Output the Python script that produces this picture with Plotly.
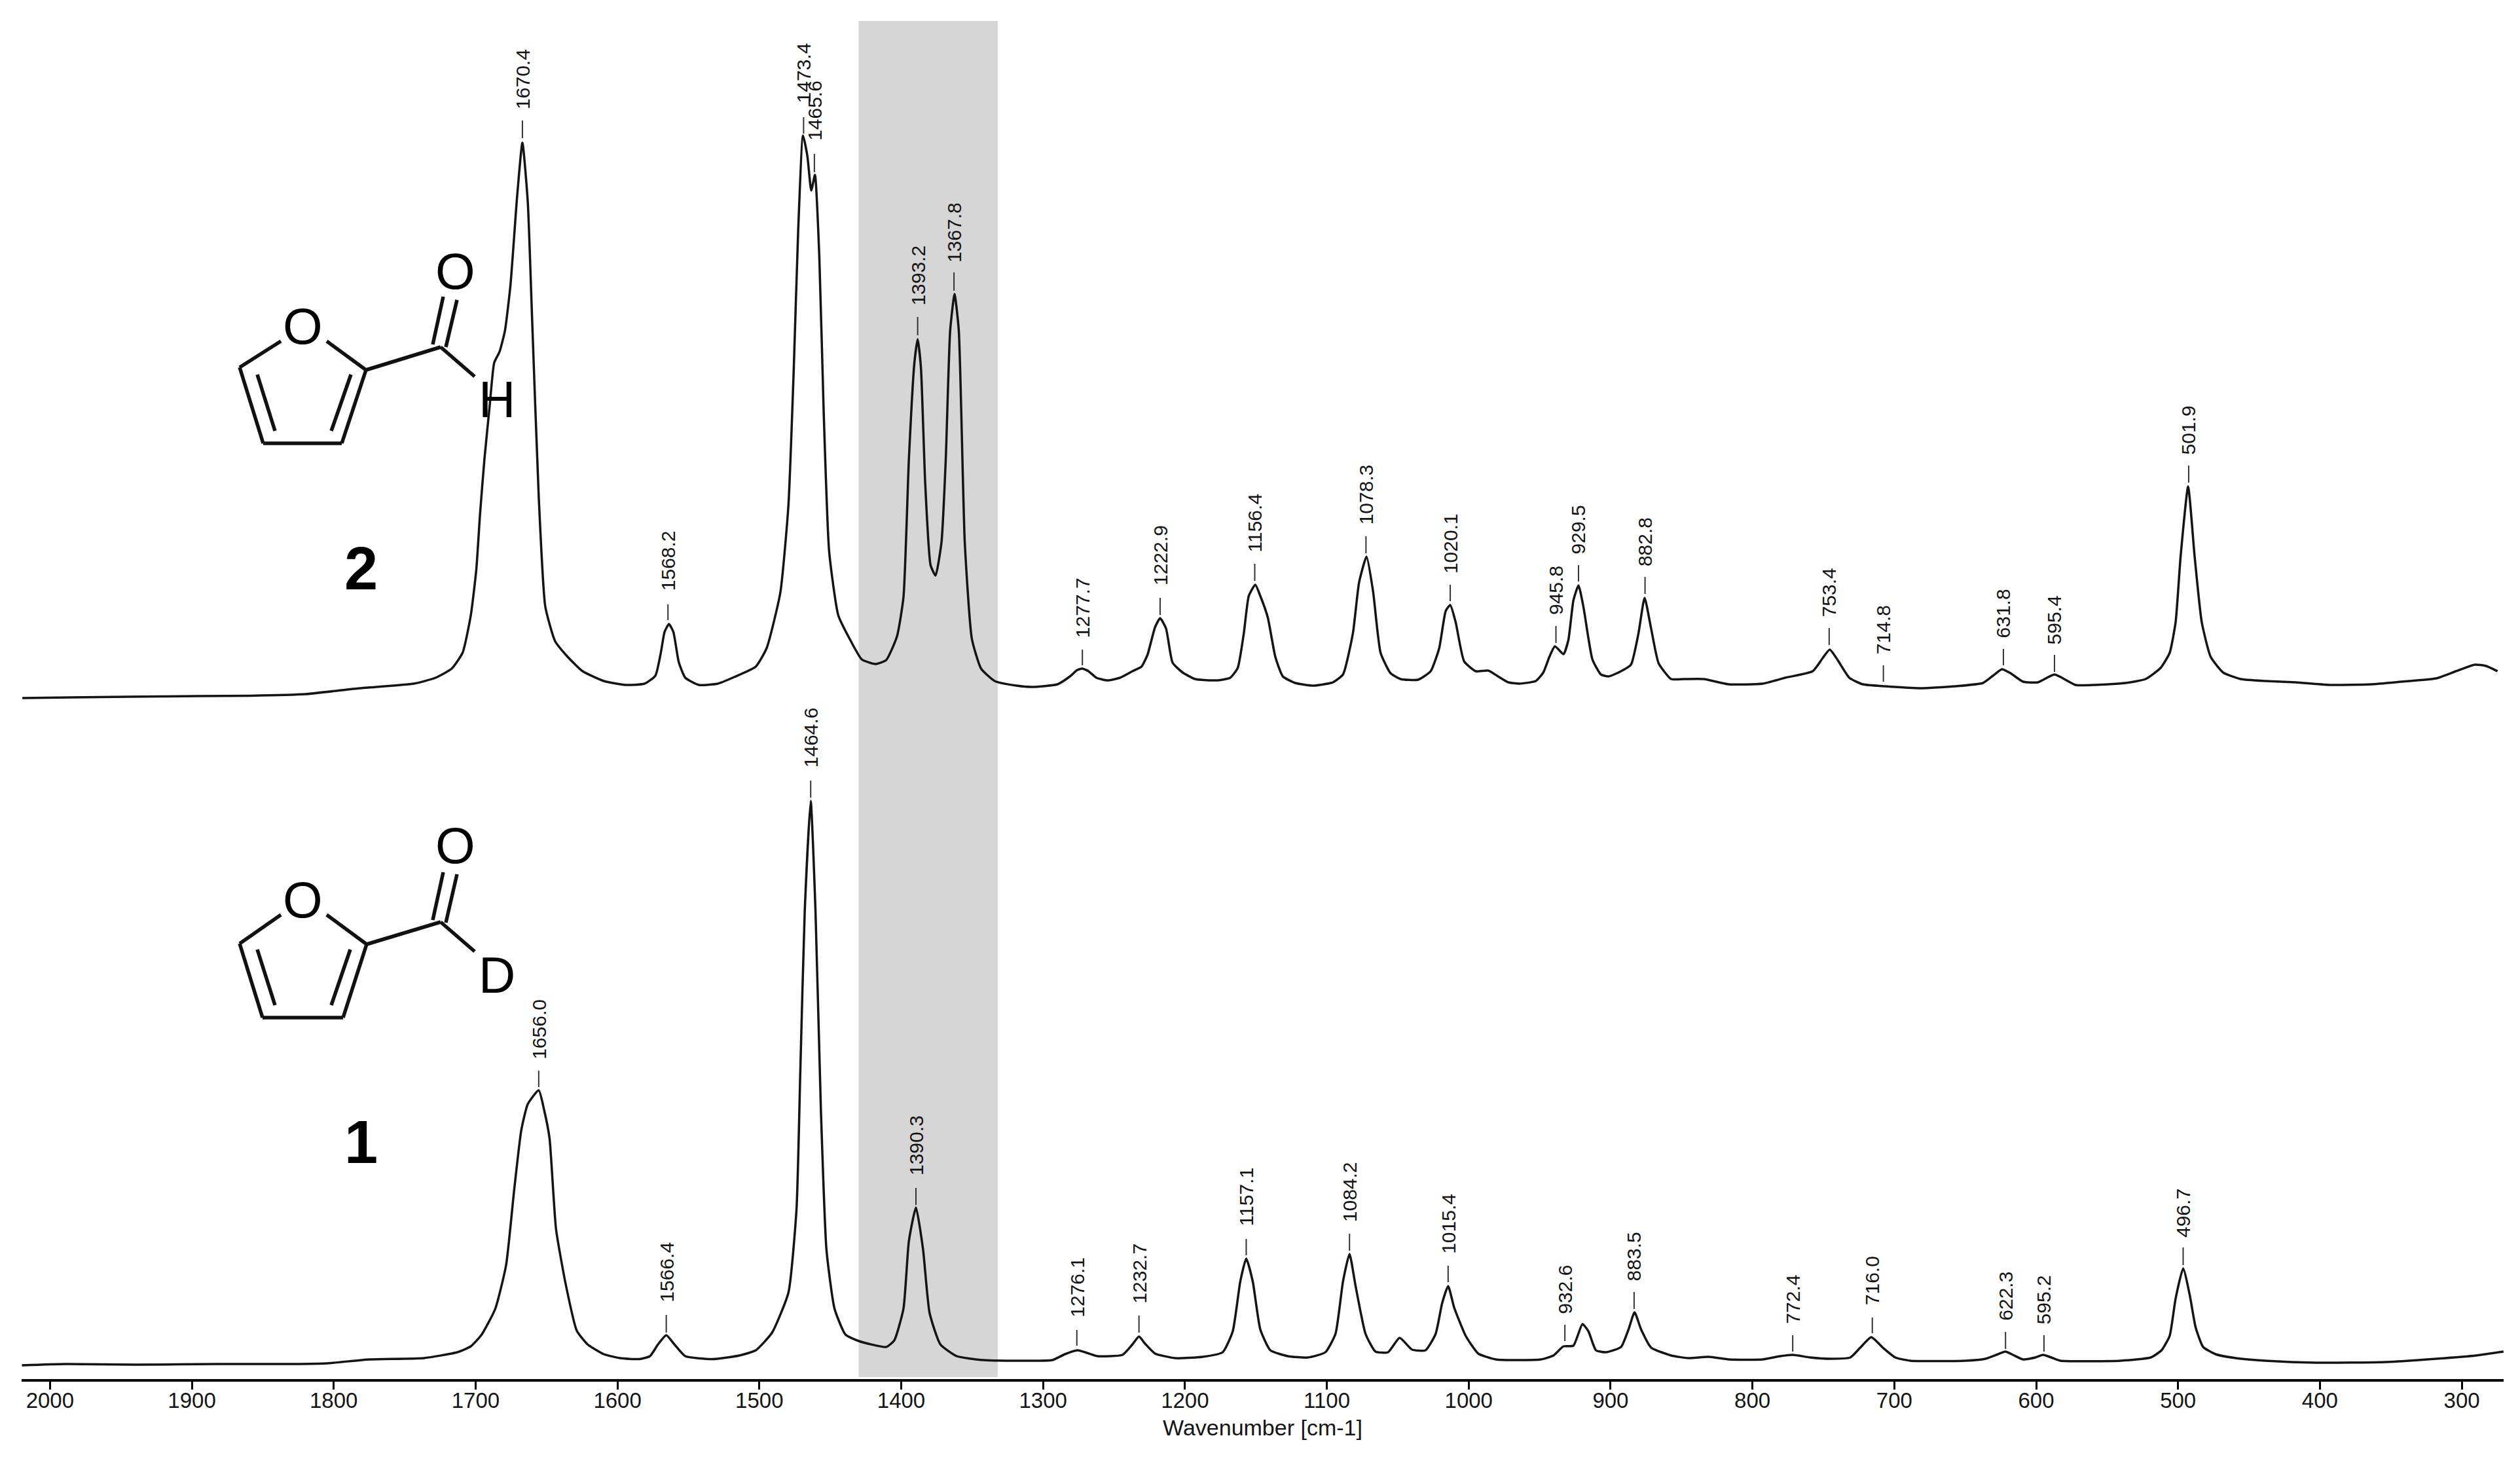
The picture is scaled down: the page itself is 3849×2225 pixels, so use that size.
import plotly.graph_objects as go

# ---- Spectrum 2 (furfural, upper trace): wavenumber / intensity on a shared arbitrary scale
w2 = [2019.5,1985.0,1945.0,1896.6,1858.3,1820.1,1781.8,1743.5,1728.2,1716.8,1709.1,1703.4,1699.5,1696.9,1693.8,1690.0,1686.9,1683.1,1679.3,1675.4,1670.8,1667.0,1663.2,1660.1,1655.5,1650.9,1644.0,1636.4,1624.9,1609.6,1594.3,1580.9,1573.3,1569.4,1566.8,1563.7,1560.6,1556.8,1552.2,1542.6,1529.3,1517.8,1502.5,1494.8,1485.2,1479.5,1475.7,1472.6,1469.2,1466.1,1463.4,1460.8,1457.7,1454.6,1450.8,1444.3,1435.5,1427.8,1418.3,1410.6,1403.0,1398.4,1394.6,1390.7,1388.4,1386.1,1383.1,1379.3,1375.8,1371.6,1368.6,1365.5,1362.4,1359.4,1355.2,1350.2,1343.7,1334.1,1318.8,
      1307.6,1289.9,1281.1,1275.8,1272.3,1268.0,1262.4,1254.6,1245.8,1237.0,1230.6,1226.4,1221.1,1217.5,1213.3,1208.7,1201.6,1192.8,1176.9,1168.1,1162.8,1158.5,1155.0,1150.4,1146.9,1141.6,1136.3,1131.0,1122.2,1109.8,1095.7,1088.6,1081.6,1077.3,1072.0,1067.4,1062.1,1055.1,1048.0,1035.6,1026.8,1020.8,1016.2,1013.0,1009.2,1003.2,995.0,986.2,979.2,972.1,964.3,952.7,947.4,943.1,939.2,933.2,929.7,926.2,922.6,919.1,912.8,906.8,901.4,892.6,885.6,880.3,876.0,871.4,866.1,857.3,848.5,834.3,816.7,
      792.8,776.9,757.5,750.5,745.5,739.9,731.7,722.2,706.3,681.6,657.0,637.5,630.5,624.1,618.1,609.3,598.7,587.1,572.3,558.1,537.0,522.9,512.3,505.9,501.7,498.2,492.9,488.3,483.3,477.0,468.2,455.8,438.2,417.0,392.3,364.1,342.9,318.2,304.1,290.7,282.9,274.8]
i2 = [1040,1041,1042,1043,1043.6,1046,1055,1062,1071,1085,1109.5,1166,1236,1320,1404,1488,1552,1569,1601,1671,1804,1888,1797,1615,1348,1180,1127,1106,1081.5,1066,1060,1062,1074,1109.5,1141,1153,1141,1095,1071,1060,1062,1072,1088,1116.5,1201,1334,1545,1755,1899,1867,1815,1839,1713,1474,1264,1166,1127,1099,1092,1098,1134,1194,1404,1552,1588,1545,1369,1243,1227,1278,1404,1601,1657,1601,1278,1130.5,1085,1066,1059,
      1057,1061,1073,1083,1085,1081,1071,1067,1071,1081,1088,1106,1148,1162,1146,1094,1079,1069,1067,1071,1086,1139,1196,1213,1196,1163,1103,1073,1063,1059,1064,1076,1139,1216,1256,1203,1109,1078,1069,1068,1081,1116,1173,1182,1156,1096,1081,1082,1073,1064,1062,1066,1079,1103,1119,1107,1129,1189,1212,1179,1099,1076,1073,1081,1091,1139,1193,1146,1093,1069,1069,1069,1061,
      1062,1071,1081,1101,1114,1098,1071,1061,1058,1055,1058,1063,1074,1084,1078,1065,1064,1076,1060,1060,1063,1069,1086,1109,1156,1256,1363,1256,1156,1103,1079,1069,1066,1064,1060,1061,1065,1070,1081,1091,1089,1081]

# ---- Spectrum 1 (furfural-d, lower trace)
w1 = [2019.8,1989.2,1939.4,1882.0,1828.4,1805.5,1774.9,1736.6,1712.9,1703.4,1695.7,1686.1,1678.5,1672.8,1667.8,1663.2,1655.5,1651.7,1647.9,1643.3,1636.4,1628.7,1621.1,1609.6,1598.1,1584.7,1577.1,1571.4,1565.6,1559.9,1552.2,1533.1,1514.0,1502.5,1491.0,1479.5,1473.8,1471.1,1468.0,1463.8,1460.4,1456.6,1452.7,1447.0,1439.3,1429.8,1410.6,1404.9,1398.4,1394.6,1389.6,1384.6,1380.0,1372.4,1360.9,1341.8,
      1316.4,1293.5,1284.6,1275.8,1270.5,1261.7,1244.0,1237.0,1232.4,1228.1,1221.1,1206.9,1187.5,1173.4,1166.3,1161.0,1156.8,1152.2,1146.9,1139.8,1127.5,1113.3,1101.0,1093.9,1088.6,1084.0,1079.8,1072.7,1065.7,1056.8,1048.7,1039.9,1030.4,1023.3,1018.7,1014.5,1010.2,1002.1,993.3,980.9,949.1,940.3,933.2,926.2,919.8,915.6,910.3,903.2,892.6,887.3,883.1,878.5,871.4,857.3,845.0,830.8,816.7,
      792.8,780.4,771.6,759.3,745.2,731.0,724.0,716.2,708.1,699.3,688.7,649.9,635.8,626.9,621.6,616.4,609.3,600.5,595.2,588.1,582.8,540.5,519.3,511.6,505.9,501.7,496.4,491.8,487.6,482.3,473.5,459.3,438.2,402.9,353.5,318.2,290.0,270.6]
i1 = [21,23,22,23,23,24,30,32,41,50,68,107.5,174,289,380,420,441,411,368,229,144,74,53,38,32,30.5,35,53,67,53,35,30.5,36,44,71,132,259,471,714,883,714,411,198,107.5,68,58,49,59,107.5,210.5,262,198,101,53,35,29,
      28,29,38,44,41,35,37,53,65,54,39,32,34,41,73,149,184,149,76,44,35,33,41,69,149,191,143,69,42,41,63,45,44,69,116,142,109,66,39,30,30,36,50,51,84,73,44,41,49,76,102,76,48,36,32,34,30,
      30,35,37,33,31,33,48,64,48,33,28,28,31,38,42,37,30,33,37,32,28,28,33,44,66,123,169,129,79,49,38,32,28,25,26,31,36,42]

# ---- Peak picks: printed label, position on the axis, tick from/to, label base
peak_text = ["1670.4","1473.4","1465.6","1393.2","1367.8","1568.2","1277.7","1222.9","1156.4","1078.3","1020.1","945.8","929.5","882.8","753.4","714.8","631.8","595.4","501.9",
             "1464.6","1656.0","1566.4","1390.3","1276.1","1232.7","1157.1","1084.2","1015.4","932.6","883.5","772.4","716.0","622.3","595.2","496.7"]
peak_w = [1667.0,1468.8,1461.2,1388.4,1362.8,1564.4,1272.3,1217.5,1150.8,1072.4,1013.0,938.5,922.6,875.7,745.9,707.7,623.1,587.1,492.5,
          1463.8,1655.5,1565.6,1389.6,1276.2,1232.4,1156.8,1084.0,1014.5,932.2,883.4,771.6,715.5,621.6,594.5,496.4]
tick_lo = [1895,1902,1843,1594,1662,1159,1090,1167,1219,1261,1188,1124,1218,1199,1121,1065,1090,1080,1369,
           888,446,71,266,51,71,189,196,148,58,107,42,70,46,42,174]
tick_hi = [1922,1927,1871,1622,1690,1183,1114,1193,1245,1287,1213,1150,1243,1225,1147,1090,1115,1106,1395,
           914,471,98,292,75,97,214,222,173,83,133,67,94,72,67,201]
text_base = [1943,1953,1895,1643,1709,1208,1136,1216,1267,1309,1234,1171,1264,1245,1168,1111,1136,1126,1416,
             938,492,121,315,98,119,238,244,195,103,154,88,117,93,88,220]

band_w = [1430, 1332]
x_range = [2020, 270.5]
y_range = [0, 2076]
tick_vals = list(range(2000, 299, -100))

# ---- Canvas
W, H = 3849, 2225
L, R, T, B = 33, 3824, 30, 2106
INK = "#141414"
def px(X): return (X - L) / (R - L)
def py(Y): return (B - Y) / (B - T)

fig = go.Figure()
fig.add_trace(go.Scatter(x=w2, y=i2, mode="lines", name="2",
                         line=dict(color=INK, width=3.5, shape="spline", smoothing=0.5)))
fig.add_trace(go.Scatter(x=w1, y=i1, mode="lines", name="1",
                         line=dict(color=INK, width=3.5, shape="spline", smoothing=0.5)))

shapes = [dict(type="rect", xref="x", yref="y", x0=band_w[0], x1=band_w[1], y0=3, y1=2074,
               fillcolor="#d6d6d6", line=dict(width=0), layer="below")]
for w, lo, hi in zip(peak_w, tick_lo, tick_hi):
    shapes.append(dict(type="line", xref="x", yref="y", x0=w, x1=w, y0=lo, y1=hi,
                       line=dict(color="#333333", width=2)))

annotations = []
for t, w, b in zip(peak_text, peak_w, text_base):
    annotations.append(dict(x=w, y=b, xref="x", yref="y", text=t, textangle=-90, showarrow=False,
                            xanchor="center", yanchor="bottom", yshift=-6,
                            font=dict(family="Liberation Sans", size=30, color=INK)))

# ---- Structural formulae (illustration, canvas pixels)
def bonds(seg, width=5.5):
    for (a, b, c, d) in seg:
        shapes.append(dict(type="line", xref="paper", yref="paper",
                           x0=px(a), y0=py(b), x1=px(c), y1=py(d),
                           line=dict(color="#111111", width=width)))
def atom(X, Y, s, size=78, bold=False):
    annotations.append(dict(x=px(X), y=py(Y), xref="paper", yref="paper", text=f"<b>{s}</b>" if bold else s,
                            showarrow=False, xanchor="center", yanchor="middle",
                            font=dict(family="Liberation Sans", size=size, color="#000000")))

bonds([(429,521,366,561),(366,561,402,677),(402,677,522,677),(522,677,559,565),(559,565,499,521),
       (393,572,420,658),(536,572,506,658),(559,565,673,530),(661,526,677,453),(681,530,698,458),(673,530,725,575)])
atom(462.5,498,"O"); atom(695.5,414,"O"); atom(758.5,610,"H"); atom(551,868,"2",size=92,bold=True)

bonds([(429,1397,366,1441),(366,1441,401,1554),(401,1554,524,1554),(524,1554,560,1442),(560,1442,499,1397),
       (393,1450,420,1535),(535,1450,506,1535),(560,1442,673,1408),(661,1405,677,1332),(681,1409,698,1335),(673,1408,725,1453)])
atom(462.5,1374,"O"); atom(695.5,1291,"O"); atom(758.5,1489,"D"); atom(551,1744,"1",size=92,bold=True)

fig.update_layout(
    width=W, height=H, showlegend=False,
    paper_bgcolor="white", plot_bgcolor="white",
    margin=dict(l=L, r=W - R, t=T, b=H - B, pad=0),
    shapes=shapes, annotations=annotations,
    xaxis=dict(range=x_range, tickmode="array", tickvals=tick_vals, ticktext=[str(v) for v in tick_vals],
               showgrid=False, zeroline=False, showline=True, linecolor="#000000", linewidth=4,
               ticks="outside", ticklen=12, tickwidth=2.5, tickcolor="#000000", ticklabelstandoff=-12,
               tickfont=dict(family="Liberation Sans", size=33, color=INK),
               title=dict(text="Wavenumber [cm-1]", standoff=14,
                          font=dict(family="Liberation Sans", size=34, color=INK))),
    yaxis=dict(range=y_range, visible=False),
)
fig.write_html("out.html", post_script="document.body.style.margin='0';", config=dict(displayModeBar=False))
